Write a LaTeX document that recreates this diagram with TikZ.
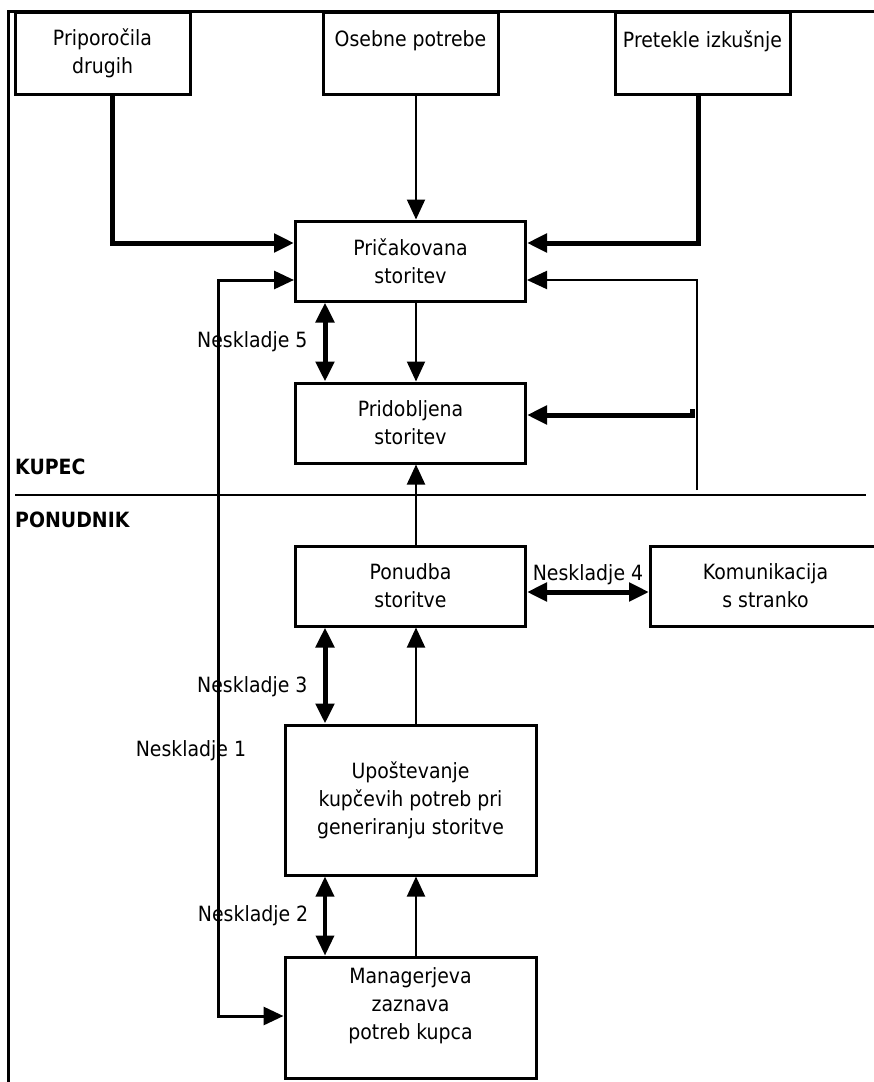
\documentclass[tikz,border=0pt]{standalone}
\usepackage{fontspec}
\setmainfont[FakeStretch=0.9]{DejaVu Sans}
\usetikzlibrary{arrows.meta, positioning}

\begin{document}
\begin{tikzpicture}[x = 1pt, y = -1pt,
		font            = \fontsize{21}{28}\selectfont,
		tipA/.tip       = {Triangle[length=20pt, width=18pt]},
		blockT/.style   = {draw,
			rectangle,
			align          = center,
			inner sep      = 0pt,
			line width     = 3pt,
			minimum width  = 175pt,
			minimum height = 82pt},
		blockM/.style   = {blockT,
			minimum width  = 230pt,
			minimum height = 80pt},
		blockL/.style   = {blockT,
			minimum width  = 251pt},
		thinA/.style    = {-tipA, line width = 2pt},
		thickA/.style   = {-tipA, line width = 5pt},
		gapA/.style     = {tipA-tipA, line width = 5pt},
		railA/.style    = {tipA-tipA, line width = 3pt},
		gapname/.style  = {inner sep = 0pt},
		side/.style     = {anchor = west, inner sep = 0pt, font = \fontsize{21}{23}\selectfont\bfseries}]
		
		\useasboundingbox (0,0) rectangle (874,1082);
		
		% frame
		\draw[line width = 3pt] (8,1082) -- (8,11) -- (874,11);
		
		\node[blockM] (prica) at (410.5,261) { Pričakovana \\ storitev };
		\node[blockM] (prido) [below=79pt of prica] { Pridobljena \\ storitev };
		\node[blockM] (ponud) [below=80pt of prido] { Ponudba \\ storitve };
		\node[blockM] (komun) [right=122pt of ponud] { Komunikacija \\ s stranko };
		\node[blockL, minimum height = 150pt] (upost) [below=96pt of ponud]
		{ Upoštevanje \\ kupčevih potreb pri \\ generiranju storitve };
		\node[blockL, minimum height = 121pt] (manag) [below=79pt of upost]
		{ Managerjeva \\ zaznava \\ potreb kupca \\ \phantom{x} };
		
		\node[blockT] (oseb) [above=124pt of prica] { Osebne potrebe \\ \phantom{x} };
		\node[blockT] (prip) [left=130pt of oseb] { Priporočila \\ drugih };
		\node[blockT] (pret) [right=114pt of oseb] { Pretekle izkušnje \\ \phantom{x} };
		
		% divider
		\draw[line width = 2pt] (15,495) -- (866,495);
		\node[side] (kupec) at (15,467) {KUPEC};
		\node[side] (ponudnik) at (15,520) {PONUDNIK};
		
		\coordinate (mid) at (416,0);   % main flow
		\coordinate (mis) at (325,0);   % gaps 5, 3, 2
		\coordinate (railtop) at (218,280);
		\coordinate (railbot) at (218,1016);
		\coordinate (fbtop) at (697,280);
		\coordinate (fbbot) at (697,490);
		\coordinate (gaptick) at (692,409);
		\coordinate (gapend) at (692,415);
		
		% inputs
		\draw[thickA] ([xshift=9.5pt]prip.south) |- ([yshift=18pt]prica.west);
		\draw[thinA] (oseb.south -| mid) -- (prica.north -| mid);
		\draw[thickA] ([xshift=-4.5pt]pret.south) |- ([yshift=18pt]prica.east);
		
		\draw[thinA] (fbbot) -- (fbtop) -- (prica.east |- fbtop);
		\draw[thickA] (gaptick) -- (gapend) -- (prido.east |- gapend);
		
		% main flow
		\draw[thinA] (prica.south -| mid) -- (prido.north -| mid);
		\draw[thinA] (ponud.north -| mid) -- (prido.south -| mid);
		\draw[thinA] (upost.north -| mid) -- (ponud.south -| mid);
		\draw[thinA] (manag.north -| mid) -- (upost.south -| mid);
		
		% gaps
		\draw[railA] (prica.west |- railtop) -- (railtop) -- (railbot) -- (manag.west |- railbot);
		\node[gapname] (n1) at (191,751) {Neskladje 1};
		\draw[gapA] (prica.south -| mis) -- node[midway, left=15pt, gapname] {Neskladje 5} (prido.north -| mis);
		\draw[gapA] (ponud.south -| mis) -- node[pos=0.62, left=15pt, gapname] {Neskladje 3} (upost.north -| mis);
		\draw[railA, line width = 3.5pt] (upost.south -| mis) -- node[midway, left=15pt, gapname] {Neskladje 2} (manag.north -| mis);
		\draw[gapA] ([yshift=-6pt]ponud.east) -- node[midway, above=5pt, gapname] {Neskladje 4} ([yshift=-6pt]komun.west);
		
	\end{tikzpicture}
\end{document}
